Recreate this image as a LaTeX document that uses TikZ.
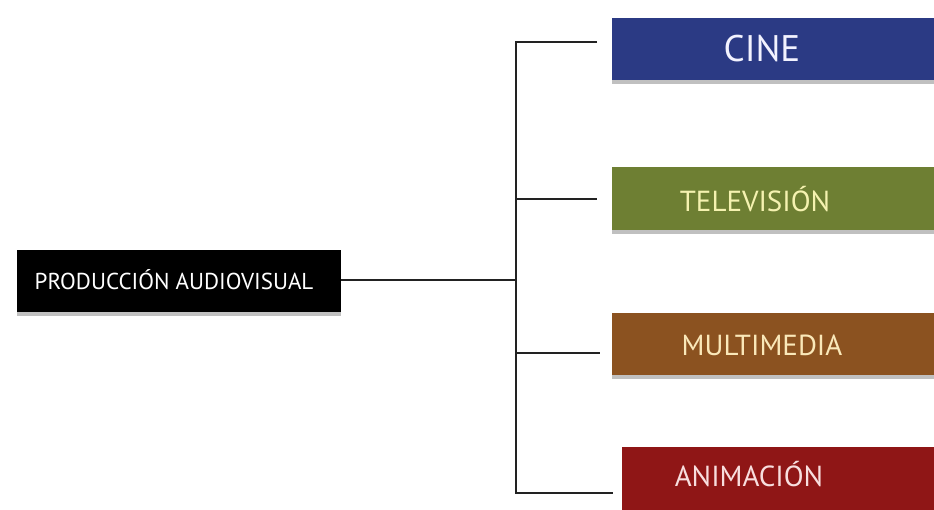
\documentclass[tikz,border=0pt]{standalone}
\usepackage{fontspec}
\setmainfont{PT Sans}
\usetikzlibrary{shadows}
\definecolor{cineblue}{HTML}{2B3A84}
\definecolor{tvgreen}{HTML}{6E7F33}
\definecolor{mmbrown}{HTML}{8B5220}
\definecolor{anred}{HTML}{8F1616}
\definecolor{linegray}{HTML}{222222}
\begin{document}
\begin{tikzpicture}[x=1pt,y=-1pt,
  box/.style={draw=none, rectangle, anchor=north west, inner sep=0pt,
    drop shadow={shadow xshift=0pt, shadow yshift=-4pt, opacity=0.35, fill=black!70}},
  lbl/.style={inner sep=0pt, font=\fontsize{29}{31}\selectfont},
  conn/.style={draw=linegray, line width=1.3pt}]
\useasboundingbox (0,0) rectangle (934,510);
\clip (0,0) rectangle (934,510);
\fill[white] (0,0) rectangle (934,510);
% boxes
\node[box, fill=black, minimum width=324pt, minimum height=62pt] (prod) at (17,250) {};
\node[inner sep=0pt, text=white, font=\fontsize{23}{25}\selectfont] at (174,280) {PRODUCCIÓN AUDIOVISUAL};
\node[box, fill=cineblue, minimum width=340pt, minimum height=62pt] (cine) at (612,18) {};
\node[lbl, text=blue!5!white, font=\fontsize{37}{39}\selectfont] at (762,49) {CINE};
\node[box, fill=tvgreen, minimum width=340pt, minimum height=63pt] (tv) at (612,167) {};
\node[lbl, text={rgb,255:red,245;green,242;blue,176}] at (755,199) {TELEVISIÓN};
\node[box, fill=mmbrown, minimum width=340pt, minimum height=62pt] (mm) at (612,313) {};
\node[lbl, text={rgb,255:red,250;green,232;blue,185}] at (762,345) {MULTIMEDIA};
\node[box, fill=anred, minimum width=340pt, minimum height=70pt] (an) at (622,447) {};
\node[lbl, text={rgb,255:red,248;green,222;blue,222}] at (749,474) {ANIMACIÓN};
% connectors
\coordinate (tmid) at (516,280);
\coordinate (ttop) at (516,42);
\coordinate (tbot) at (516,493);
\coordinate (ecine) at (597,42);
\coordinate (etv) at (597,199);
\coordinate (emm) at (600,353);
\coordinate (ean) at (613,493);
\draw[conn] (prod.east |- tmid) -- (tmid);
\draw[conn] (ecine) -- (ttop) -- (tbot) -- (ean);
\draw[conn] (tmid |- etv) -- (etv);
\draw[conn] (tmid |- emm) -- (emm);
\end{tikzpicture}
\end{document}
